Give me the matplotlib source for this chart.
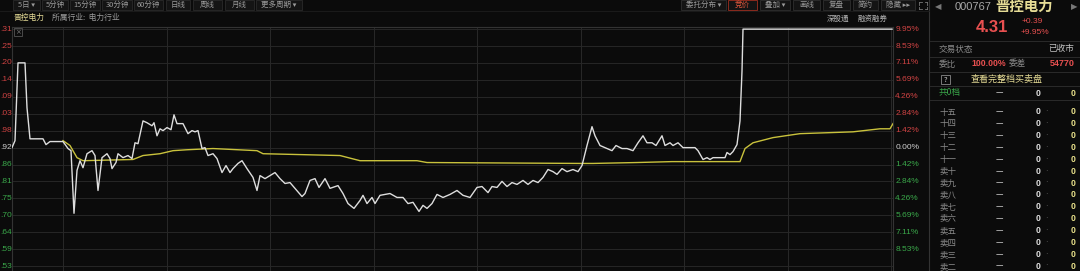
import numpy as np
import matplotlib
matplotlib.use('Agg')
import matplotlib.pyplot as plt
from matplotlib.patches import Rectangle
from matplotlib.lines import Line2D

plt.rcParams['font.family'] = ['Noto Sans CJK SC', 'DejaVu Sans']

# ---------------- data ----------------
prev_close = 3.92
last_price = 4.31
change = "+0.39"
change_pct = "+9.95%"
stock_code = "000767"
stock_name = "晋控电力"

minute = [0, 3, 6, 13, 15, 18, 31, 34, 38, 51,
          56, 59, 62, 65, 68, 71, 75, 80, 83, 86,
          90, 95, 98, 100, 104, 106, 111, 116, 120, 123,
          126, 131, 135, 140, 142, 145, 148, 151, 155, 159,
          162, 165, 171, 176, 180, 183, 186, 190, 193, 196,
          201, 205, 210, 214, 218, 221, 226, 230, 235, 241,
          245, 248, 253, 258, 263, 268, 273, 278, 283, 290,
          293, 298, 303, 307, 313, 318, 326, 331, 336, 342,
          348, 351, 355, 360, 363, 368, 378, 385, 391, 396,
          401, 407, 411, 415, 420, 425, 431, 438, 445, 451,
          458, 465, 470, 476, 480, 485, 490, 495, 500, 505,
          511, 516, 521, 526, 531, 536, 541, 545, 550, 555,
          561, 566, 570, 575, 580, 583, 588, 595, 600, 604,
          610, 615, 621, 626, 631, 635, 640, 644, 650, 653,
          658, 661, 666, 671, 683, 686, 691, 695, 698, 701,
          708, 713, 715, 718, 721, 725, 728, 730, 731, 880]
price = [3.920, 3.943, 4.199, 4.199, 4.051, 3.949, 3.949, 3.930, 3.940, 3.940,
         3.917, 3.910, 3.704, 3.845, 3.877, 3.854, 3.900, 3.910, 3.894, 3.779,
         3.887, 3.900, 3.884, 3.851, 3.871, 3.900, 3.887, 3.894, 3.884, 3.936,
         3.933, 4.008, 4.002, 3.992, 4.002, 3.959, 3.982, 3.976, 3.986, 3.979,
         4.028, 3.999, 3.999, 3.966, 3.976, 3.972, 3.976, 3.917, 3.920, 3.894,
         3.900, 3.884, 3.838, 3.861, 3.838, 3.851, 3.868, 3.877, 3.851, 3.822,
         3.779, 3.828, 3.818, 3.828, 3.838, 3.818, 3.802, 3.805, 3.786, 3.759,
         3.769, 3.812, 3.818, 3.789, 3.818, 3.786, 3.795, 3.769, 3.736, 3.720,
         3.746, 3.763, 3.736, 3.756, 3.736, 3.763, 3.769, 3.756, 3.756, 3.736,
         3.740, 3.710, 3.730, 3.720, 3.736, 3.766, 3.756, 3.766, 3.779, 3.763,
         3.756, 3.789, 3.792, 3.772, 3.792, 3.789, 3.809, 3.792, 3.805, 3.799,
         3.812, 3.799, 3.812, 3.805, 3.822, 3.848, 3.841, 3.832, 3.851, 3.841,
         3.848, 3.841, 3.861, 3.927, 3.989, 3.959, 3.927, 3.917, 3.910, 3.927,
         3.917, 3.917, 3.910, 3.936, 3.959, 3.936, 3.936, 3.927, 3.959, 3.927,
         3.936, 3.927, 3.936, 3.920, 3.920, 3.910, 3.881, 3.887, 3.881, 3.887,
         3.887, 3.887, 3.904, 3.897, 3.907, 3.930, 4.008, 4.172, 4.310, 4.310]

avg_minute = [51, 58, 65, 71, 121, 131, 148, 161, 175, 201,
              245, 251, 328, 348, 405, 415, 568, 581, 625, 660,
              728, 733, 741, 761, 788, 815, 841, 868, 878, 881]
avg_price = [3.943, 3.927, 3.887, 3.877, 3.881, 3.894, 3.900, 3.910, 3.913, 3.917,
             3.910, 3.900, 3.894, 3.877, 3.877, 3.871, 3.868, 3.868, 3.871, 3.874,
             3.874, 3.917, 3.936, 3.953, 3.966, 3.969, 3.972, 3.982, 3.982, 3.999]

pct_levels = [9.95, 8.53, 7.11, 5.69, 4.26, 2.84, 1.42, 0.00,
              -1.42, -2.84, -4.26, -5.69, -7.11, -8.53, -9.95]
# left price labels as visible in the (left-cropped) screenshot
price_labels = ['.31', '.25', '.20', '.14', '.09', '.03', '.98', '.92',
                '.86', '.81', '.75', '.70', '.64', '.59', '.53']
pct_labels = ['9.95%', '8.53%', '7.11%', '5.69%', '4.26%', '2.84%', '1.42%', '0.00%',
              '1.42%', '2.84%', '4.26%', '5.69%', '7.11%', '8.53%', '']

period_buttons = ['5日 ▾', '5分钟', '15分钟', '30分钟', '60分钟', '日线', '周线', '月线', '更多周期 ▾']
tool_buttons = ['委托分布 ▾', '竞价', '叠加 ▾', '画线', '复盘', '简约', '隐藏 ▸▸']
book_rows = ['十五', '十四', '十三', '十二', '十一', '卖十', '卖九', '卖八',
             '卖七', '卖六', '卖五', '卖四', '卖三', '卖二']
book_vol = [0] * len(book_rows)

# ---------------- style ----------------
BG = '#0b0b0b'
GRID = '#262626'
RED = '#d04343'
GREEN = '#3aa84a'
GRAY = '#9a9a9a'
LIGHT = '#d0d0d0'
YEL = '#e6dc96'

W, H = 1080, 271
fig = plt.figure(figsize=(W / 100, H / 100), dpi=100)
fig.patch.set_facecolor(BG)


def fx(x):
    return x / W


def fy(y):
    return 1 - y / H


ax = fig.add_axes([fx(12), 0, fx(893) - fx(12), fy(27)])
ax.set_facecolor(BG)
ax.set_xlim(0, 881)
ax.set_ylim(3.514, 4.317)
ax.set_xticks([])
ax.set_yticks([])
ax.spines['bottom'].set_visible(False)
for s in ['left', 'right', 'top']:
    ax.spines[s].set_color('#333333')
    ax.spines[s].set_linewidth(0.8)

levels = [prev_close * (1 + p / 100) for p in pct_levels]
for lv in levels:
    ax.axhline(lv, color=GRID, lw=0.7, zorder=1)
for xv in np.arange(51, 881, 103.5):
    ax.axvline(xv, color='#282828', lw=0.7, zorder=1)

ytr = ax.get_yaxis_transform()
for lv, p, lab, plab in zip(levels, pct_levels, price_labels, pct_labels):
    if p > 0:
        c = RED
    elif p < 0:
        c = GREEN
    else:
        c = LIGHT
    ax.text(-0.0135, lv, lab, transform=ytr, ha='left',
            va='center', fontsize=6, color=c, family='Liberation Sans', clip_on=False)
    if plab:
        ax.text(1.0025, lv, plab, transform=ytr, ha='left',
                va='center', fontsize=6, color=c, family='Liberation Sans', clip_on=False)

ax.plot(avg_minute, avg_price, color='#c9c23c', lw=1.0, zorder=3)
ax.plot(minute, price, color='#dedede', lw=1.0, zorder=4)

# ---------------- frame lines ----------------
fig.add_artist(Line2D([fx(929), fx(929)], [0, 1], color='#333333', lw=0.8))
fig.add_artist(Line2D([0, fx(929)], [fy(11), fy(11)], color='#1e1e1e', lw=0.6))

# toolbar buttons
left_btn_x = [(13, 40), (42, 68), (70, 100), (102, 132), (134, 163), (166, 190),
              (193, 222), (225, 254), (256, 302)]
for lab, (x0, x1) in zip(period_buttons, left_btn_x):
    fig.add_artist(Rectangle((fx(x0), fy(10)), fx(x1) - fx(x0), fy(0) - fy(10),
                             facecolor='#141414', edgecolor='#2a2a2a', lw=0.6))
    fig.text(fx((x0 + x1) / 2), fy(5), lab, ha='center', va='center', fontsize=5.4, color=GRAY)

right_btn_x = [(681, 726), (728, 757), (760, 790), (793, 820), (823, 850), (853, 878), (881, 915)]
for lab, (x0, x1) in zip(tool_buttons, right_btn_x):
    hl = lab == '竞价'
    fig.add_artist(Rectangle((fx(x0), fy(10)), fx(x1) - fx(x0), fy(0) - fy(10),
                             facecolor='#141414', edgecolor='#8a2a1e' if hl else '#2a2a2a', lw=0.7))
    fig.text(fx((x0 + x1) / 2), fy(5), lab, ha='center', va='center', fontsize=5.4,
             color='#e0573c' if hl else GRAY)
# fullscreen icon (drawn as four small corners)
for (cx, cy, dx, dy) in [(919, 2, 1, 1), (927, 2, -1, 1), (919, 9, 1, -1), (927, 9, -1, -1)]:
    fig.add_artist(Line2D([fx(cx), fx(cx + 2.5 * dx)], [fy(cy), fy(cy)], color='#777777', lw=0.6))
    fig.add_artist(Line2D([fx(cx), fx(cx)], [fy(cy), fy(cy + 2.5 * dy)], color='#777777', lw=0.6))

# header
fig.text(fx(14), fy(18), stock_name, ha='left', va='center', fontsize=5.6, color=YEL)
fig.text(fx(52), fy(18), '所属行业:  电力行业', ha='left', va='center', fontsize=5.6, color=GRAY)
fig.text(fx(827), fy(19), '深股通', ha='left', va='center', fontsize=5.4, color='#b8b8b8')
fig.text(fx(858), fy(19), '融资融券', ha='left', va='center', fontsize=5.4, color='#b8b8b8')
fig.add_artist(Rectangle((fx(14), fy(36)), fx(8), fy(28) - fy(36),
                         facecolor='none', edgecolor='#555555', lw=0.6))
fig.text(fx(18), fy(32), '×', ha='center', va='center', fontsize=5, color='#777777',
         family=['DejaVu Sans'])

# ---------------- right panel ----------------
fig.text(fx(938), fy(7), '◀', ha='center', va='center', fontsize=6, color='#777777',
         family=['DejaVu Sans'])
fig.text(fx(1074), fy(7), '▶', ha='center', va='center', fontsize=6, color='#777777',
         family=['DejaVu Sans'])
fig.text(fx(955), fy(7), stock_code, ha='left', va='center', fontsize=8, color='#a8a8a8',
         family='Liberation Sans')
fig.text(fx(995), fy(7), stock_name, ha='left', va='center', fontsize=10.4, color=YEL,
         fontweight='bold')
fig.text(fx(976), fy(27), f"{last_price:.2f}", ha='left', va='center', fontsize=12,
         color='#e85050', fontweight='bold', family='Liberation Sans')
fig.text(fx(1022), fy(21), change, ha='left', va='center', fontsize=6, color='#e85050',
         family='Liberation Sans')
fig.text(fx(1021), fy(32), change_pct, ha='left', va='center', fontsize=6, color='#e85050',
         family='Liberation Sans')

for yy in [41, 57, 72, 86, 100]:
    fig.add_artist(Line2D([fx(930), 1], [fy(yy), fy(yy)], color='#2a2a2a', lw=0.7))

fig.text(fx(939), fy(49), '交易状态', ha='left', va='center', fontsize=6.2, color='#8a8a8a')
fig.text(fx(1074), fy(49), '已收市', ha='right', va='center', fontsize=6.2, color='#c8c8c8')
fig.text(fx(939), fy(64), '委比', ha='left', va='center', fontsize=6.2, color='#8a8a8a')
fig.text(fx(971), fy(64), '100.00%', ha='left', va='center', fontsize=6.3, color='#e85050',
         fontweight='bold', family='Liberation Sans')
fig.text(fx(1009), fy(64), '委差', ha='left', va='center', fontsize=6.2, color='#8a8a8a')
fig.text(fx(1075), fy(64), '54770', ha='right', va='center', fontsize=6.5, color='#e85050',
         fontweight='bold', family='Liberation Sans')
fig.add_artist(Rectangle((fx(941), fy(84)), fx(9), fy(75) - fy(84),
                         facecolor='none', edgecolor='#8a8a8a', lw=0.6))
fig.text(fx(945.5), fy(79.5), '?', ha='center', va='center', fontsize=5.5, color='#cccccc')
fig.text(fx(1007), fy(79), '查看完整档买卖盘', ha='center', va='center', fontsize=6.5, color=YEL)

fig.text(fx(939), fy(93), '共0档', ha='left', va='center', fontsize=6.2, color=GREEN)
fig.text(fx(999), fy(93), '—', ha='center', va='center', fontsize=6, color='#cccccc')
fig.text(fx(1038), fy(93), '0', ha='center', va='center', fontsize=6.2, color='#e0e0e0',
         family='Liberation Sans', fontweight='bold')
fig.text(fx(1073), fy(93), '0', ha='center', va='center', fontsize=6.2, color='#e8e08a',
         family='Liberation Sans', fontweight='bold')

for i, (lab, v) in enumerate(zip(book_rows, book_vol)):
    yy = 112 + i * 11.85
    fig.text(fx(939), fy(yy), lab, ha='left', va='center', fontsize=6.1, color='#8a8a8a')
    fig.text(fx(999), fy(yy), '—', ha='center', va='center', fontsize=6, color='#cccccc')
    fig.text(fx(1038), fy(yy), str(v), ha='center', va='center', fontsize=6.2, color='#e0e0e0',
             family='Liberation Sans', fontweight='bold')
    fig.text(fx(1046), fy(yy), '·', ha='center', va='center', fontsize=6, color='#666666',
             family=['DejaVu Sans'])
    fig.text(fx(1073), fy(yy), str(v), ha='center', va='center', fontsize=6.2, color='#e8e08a',
             family='Liberation Sans', fontweight='bold')

fig.savefig('out.png', dpi=100, facecolor=BG)
